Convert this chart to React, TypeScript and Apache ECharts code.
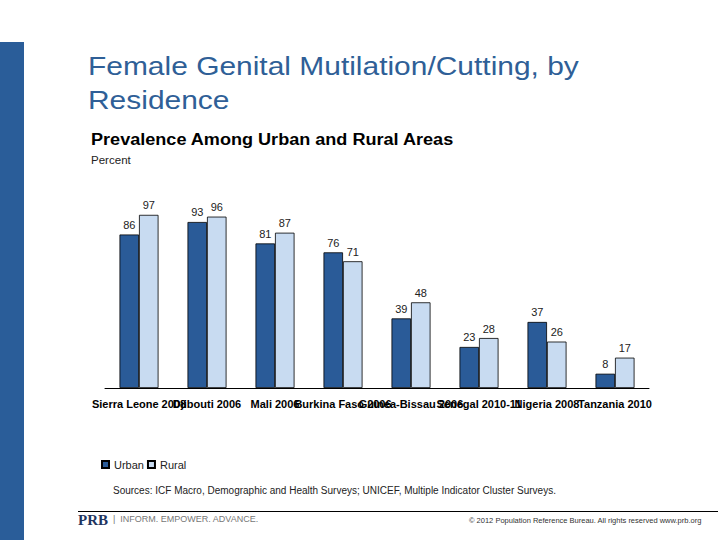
import React, { useEffect, useRef } from "react";
import * as echarts from "echarts";

const categories = [
  "Sierra Leone 2008",
  "Djibouti 2006",
  "Mali 2006",
  "Burkina Faso 2006",
  "Guinea-Bissau 2006",
  "Senegal 2010-11",
  "Nigeria 2008",
  "Tanzania 2010",
];
const urban = [86, 93, 81, 76, 39, 23, 37, 8];
const rural = [97, 96, 87, 71, 48, 28, 26, 17];

const FONT = "Liberation Sans, Arial, sans-serif";

export default function App() {
  const ref = useRef<HTMLDivElement>(null);
  useEffect(() => {
    if (!ref.current) return;
    const chart = echarts.init(ref.current, null, { renderer: "svg" });
    const labelStyle = {
      show: true,
      position: "top" as const,
      distance: 4,
      fontSize: 11,
      fontFamily: FONT,
      color: "#222",
    };
    chart.setOption({
      animation: false,
      backgroundColor: "#fff",
      textStyle: { fontFamily: FONT },
      grid: { left: 105, right: 71, top: 209.5, bottom: 152, containLabel: false },
      legend: {
        left: 101,
        top: 459,
        padding: 0,
        itemWidth: 7,
        itemHeight: 7,
        itemGap: 3,
        icon: "rect",
        textStyle: { fontSize: 11, fontFamily: FONT, color: "#222" },
        data: ["Urban", "Rural"],
      },
      xAxis: {
        type: "category",
        data: categories,
        axisLine: { lineStyle: { color: "#000", width: 1 } },
        axisTick: { show: false },
        axisLabel: {
          interval: 0,
          fontSize: 11,
          fontWeight: "bold",
          fontFamily: FONT,
          color: "#000",
          margin: 10,
          hideOverlap: false,
        },
      },
      yAxis: {
        type: "value",
        min: 0,
        max: 100,
        show: false,
        splitLine: { show: false },
      },
      series: [
        {
          name: "Urban",
          type: "bar",
          data: urban,
          barWidth: 19.5,
          barGap: "0%",
          itemStyle: { color: "#2a5b98", borderColor: "#000", borderWidth: 0.8 },
          label: labelStyle,
        },
        {
          name: "Rural",
          type: "bar",
          data: rural,
          barWidth: 19.5,
          itemStyle: { color: "#c8dbf1", borderColor: "#000", borderWidth: 0.8 },
          label: labelStyle,
        },
      ],
      graphic: [
        { type: "rect", shape: { x: 0, y: 42, width: 24, height: 498 }, style: { fill: "#2a5d99" } },
        {
          type: "text",
          x: 88,
          y: 49,
          scaleX: 1.13,
          style: {
            text: "Female Genital Mutilation/Cutting, by\nResidence",
            fontSize: 26.5,
            lineHeight: 34,
            fontFamily: FONT,
            fill: "#2f5f97",
            verticalAlign: "top",
          },
        },
        {
          type: "text",
          x: 91,
          y: 132,
          scaleX: 1.13,
          style: {
            text: "Prevalence Among Urban and Rural Areas",
            fontSize: 16,
            fontWeight: "bold",
            fontFamily: FONT,
            fill: "#000",
            verticalAlign: "top",
          },
        },
        {
          type: "text",
          x: 91,
          y: 155,
          scaleX: 1.05,
          style: { text: "Percent", fontSize: 11, fontFamily: FONT, fill: "#222", verticalAlign: "top" },
        },
        {
          type: "text",
          left: 113,
          top: 485,
          style: {
            text: "Sources: ICF Macro, Demographic and Health Surveys; UNICEF, Multiple Indicator Cluster Surveys.",
            fontSize: 10,
            fontFamily: FONT,
            fill: "#222",
          },
        },
        { type: "line", shape: { x1: 78, y1: 511.5, x2: 718, y2: 511.5 }, style: { stroke: "#000", lineWidth: 1 } },
        {
          type: "text",
          left: 78,
          top: 512,
          style: { text: "PRB", fontSize: 15, fontWeight: "bold", fontFamily: "Liberation Serif, serif", fill: "#1f3560" },
        },
        {
          type: "text",
          left: 113,
          top: 514,
          style: { text: "|  INFORM. EMPOWER. ADVANCE.", fontSize: 9, fontFamily: FONT, fill: "#777" },
        },
        {
          type: "text",
          left: 469,
          top: 516,
          style: {
            text: "© 2012 Population Reference Bureau. All rights reserved www.prb.org",
            fontSize: 7.5,
            fontFamily: FONT,
            fill: "#333",
          },
        },
      ],
    });
    return () => chart.dispose();
  }, []);
  return (
    <div
      ref={ref}
      style={{ position: "fixed", left: 0, top: 0, width: 720, height: 540 }}
    />
  );
}
